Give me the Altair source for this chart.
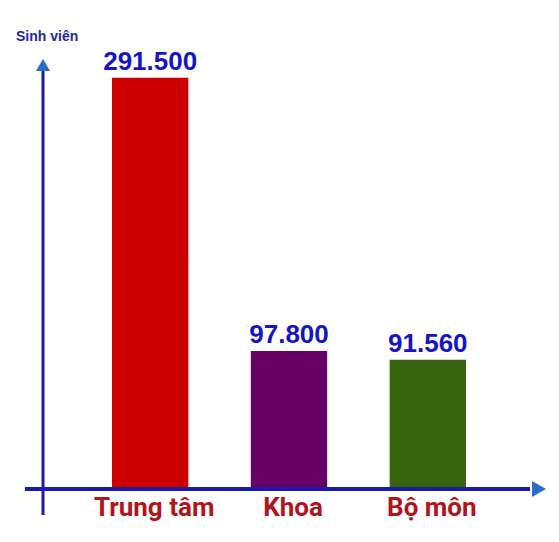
import altair as alt
import pandas as pd

# data (thousands of students)
categories = ["Trung tâm", "Khoa", "Bộ môn"]
values = [291.5, 97.8, 91.56]
value_labels = ["291.500", "97.800", "91.560"]
bar_colors = ["#cc0000", "#660066", "#386410"]

df = pd.DataFrame({
    "Category": categories,
    "Value": values,
    "Label": value_labels,
})

x_enc = alt.X("Category:N", sort=categories, axis=None,
              scale=alt.Scale(range=[104, 458], paddingInner=0.45, paddingOuter=0))
y_scale = alt.Scale(domain=[0, 341])

base = alt.Chart(df)

bars = base.mark_bar().encode(
    x=x_enc,
    y=alt.Y("Value:Q", scale=y_scale, axis=None),
    color=alt.Color("Category:N", sort=categories, legend=None,
                    scale=alt.Scale(domain=categories, range=bar_colors)),
)

value_text = base.mark_text(
    baseline="alphabetic", dy=-8, font="Liberation Sans", fontWeight="bold",
    fontSize=26, color="#1515c8"
).encode(
    x=x_enc,
    y=alt.Y("Value:Q", scale=y_scale),
    text="Label:N",
)

cat_text = base.mark_text(
    baseline="middle", font="Roboto", dx=4,
    fontWeight="bold", fontSize=26, color="#b0141c"
).encode(
    x=x_enc,
    y=alt.value(500),
    text="Category:N",
)

one = alt.Data(values=[{}])

# hand drawn looking axes with arrow heads
x_axis = alt.Chart(one).mark_rule(color="#1c1ca8", strokeWidth=4).encode(
    x=alt.value(17), x2=alt.value(522), y=alt.value(481)
)
x_arrow = alt.Chart(one).mark_point(
    shape="triangle-right", filled=True, size=260, color="#2a6ccc", opacity=1
).encode(x=alt.value(531), y=alt.value(481))

y_axis = alt.Chart(one).mark_rule(color="#1c1ca8", strokeWidth=3).encode(
    x=alt.value(35), y=alt.value(62), y2=alt.value(507)
)
y_arrow = alt.Chart(one).mark_point(
    shape="triangle-up", filled=True, size=200, color="#2a6ccc", opacity=1
).encode(x=alt.value(35), y=alt.value(57))

y_title = alt.Chart(one).mark_text(
    align="left", baseline="middle", font="Liberation Sans", fontWeight="bold",
    fontSize=14, color="#2525a0"
).encode(x=alt.value(8), y=alt.value(29), text=alt.value("Sinh viên"))

chart = alt.layer(
    bars, value_text, cat_text, x_axis, x_arrow, y_axis, y_arrow, y_title
).properties(
    width=543, height=481,
    padding={"left": 0, "top": 0, "right": 0, "bottom": 45},
    autosize="none",
).configure(background="white").configure_view(stroke=None, strokeWidth=0)

chart.save("out.html", embed_options={"renderer": "svg", "actions": False})
